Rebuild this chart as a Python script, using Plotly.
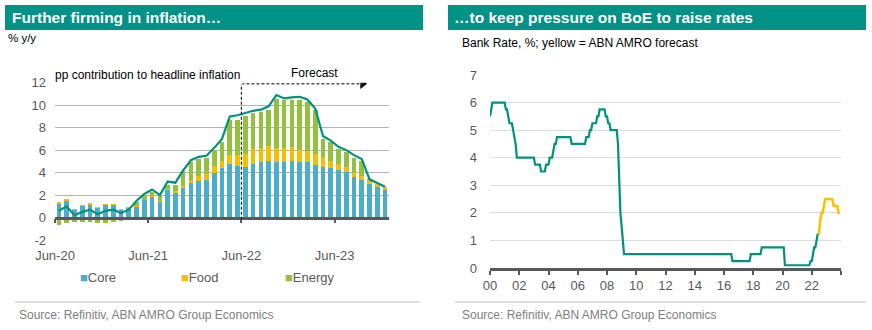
import plotly.graph_objects as go
import pandas as pd

# ---------------- Data: left chart (pp contribution to UK CPI, Jun-20 .. Dec-23) -------------
months = pd.date_range("2020-06-01", "2023-12-01", freq="MS")
core = [1.27, 1.5, 0.7, 1.07, 1.2, 0.9, 1.2, 1.2, 0.7, 0.9,
        1.05, 1.6, 1.9, 1.45, 2.5, 2.25, 2.7, 3.1, 3.3, 3.4,
        4.0, 4.4, 4.8, 4.6, 4.5, 4.8, 5.0, 5.1, 5.0, 5.0,
        5.1, 5.0, 5.0, 4.7, 4.5, 4.45, 4.3, 4.1, 3.65, 3.4,
        3.05, 2.75, 2.45]
food = [0.1, 0.1, 0.08, 0.03, 0.08, 0.02, 0.02, 0.02, 0.02, 0.02,
        0.02, -0.05, 0.02, 0.03, 0.05, 0.1, 0.1, 0.3, 0.4, 0.5,
        0.6, 0.7, 0.8, 1.0, 1.2, 1.3, 1.2, 1.3, 1.2, 1.2,
        1.2, 1.0, 0.95, 1.0, 0.9, 0.65, 0.5, 0.4, 0.35, 0.35,
        0.35, 0.3, 0.25]
energy = [-0.62, -0.5, -0.4, -0.4, -0.4, -0.5, -0.5, -0.35, -0.3, -0.2,
          0.3, 0.35, 0.35, 0.5, 0.4, 0.55, 1.4, 1.6, 1.5, 1.4,
          1.4, 1.65, 3.1, 3.15, 3.4, 3.2, 3.25, 3.2, 4.4, 4.25,
          4.2, 4.5, 4.35, 3.9, 1.65, 1.65, 1.35, 1.4, 1.35, 1.35,
          0.05, 0.0, 0.0]
headline = [0.6, 1.0, 0.2, 0.5, 0.7, 0.3, 0.6, 0.7, 0.4, 0.7,
            1.5, 2.1, 2.5, 2.0, 3.2, 3.1, 4.2, 5.1, 5.4, 5.5,
            6.2, 7.0, 9.0, 9.1, 9.3, 9.5, 9.6, 9.9, 10.9, 10.6,
            10.7, 10.75, 10.5, 9.7, 7.25, 6.85, 6.3, 6.0, 5.55, 5.2,
            3.4, 3.05, 2.75]
left_tick_labels = ["Jun-20", "Jun-21", "Jun-22", "Jun-23"]
left_y_ticks = [-2, 0, 2, 4, 6, 8, 10, 12]
left_y_labels = ["-2", "0", "2", "4", "6", "8", "10", "12"]
forecast_start_label = "Jun-22"
forecast_arrow_end = 39.6
forecast_level = 11.9

# ---------------- Data: right chart (BoE Bank Rate, monthly 2000-2023) -------------
bank_rate = [
    5.5, 5.75, 6.0, 6.0, 6.0, 6.0, 6.0, 6.0, 6.0, 6.0, 6.0, 6.0,          # 2000
    6.0, 5.75, 5.75, 5.5, 5.25, 5.25, 5.25, 5.0, 4.75, 4.5, 4.0, 4.0,     # 2001
    4.0, 4.0, 4.0, 4.0, 4.0, 4.0, 4.0, 4.0, 4.0, 4.0, 4.0, 4.0,           # 2002
    4.0, 3.75, 3.75, 3.75, 3.75, 3.75, 3.5, 3.5, 3.5, 3.5, 3.75, 3.75,    # 2003
    3.75, 4.0, 4.0, 4.0, 4.25, 4.5, 4.5, 4.75, 4.75, 4.75, 4.75, 4.75,   # 2004
    4.75, 4.75, 4.75, 4.75, 4.75, 4.75, 4.75, 4.5, 4.5, 4.5, 4.5, 4.5,   # 2005
    4.5, 4.5, 4.5, 4.5, 4.5, 4.5, 4.5, 4.75, 4.75, 4.75, 5.0, 5.0,       # 2006
    5.25, 5.25, 5.25, 5.25, 5.5, 5.5, 5.75, 5.75, 5.75, 5.75, 5.75, 5.5, # 2007
    5.5, 5.25, 5.25, 5.0, 5.0, 5.0, 5.0, 5.0, 5.0, 4.5, 3.0, 2.0,        # 2008
    1.5, 1.0, 0.5, 0.5, 0.5, 0.5, 0.5, 0.5, 0.5, 0.5, 0.5, 0.5,          # 2009
    0.5, 0.5, 0.5, 0.5, 0.5, 0.5, 0.5, 0.5, 0.5, 0.5, 0.5, 0.5,          # 2010
    0.5, 0.5, 0.5, 0.5, 0.5, 0.5, 0.5, 0.5, 0.5, 0.5, 0.5, 0.5,          # 2011
    0.5, 0.5, 0.5, 0.5, 0.5, 0.5, 0.5, 0.5, 0.5, 0.5, 0.5, 0.5,          # 2012
    0.5, 0.5, 0.5, 0.5, 0.5, 0.5, 0.5, 0.5, 0.5, 0.5, 0.5, 0.5,          # 2013
    0.5, 0.5, 0.5, 0.5, 0.5, 0.5, 0.5, 0.5, 0.5, 0.5, 0.5, 0.5,          # 2014
    0.5, 0.5, 0.5, 0.5, 0.5, 0.5, 0.5, 0.5, 0.5, 0.5, 0.5, 0.5,          # 2015
    0.5, 0.5, 0.5, 0.5, 0.5, 0.5, 0.5, 0.25, 0.25, 0.25, 0.25, 0.25,     # 2016
    0.25, 0.25, 0.25, 0.25, 0.25, 0.25, 0.25, 0.25, 0.25, 0.25, 0.5, 0.5,# 2017
    0.5, 0.5, 0.5, 0.5, 0.5, 0.5, 0.5, 0.75, 0.75, 0.75, 0.75, 0.75,     # 2018
    0.75, 0.75, 0.75, 0.75, 0.75, 0.75, 0.75, 0.75, 0.75, 0.75, 0.75, 0.75, # 2019
    0.75, 0.75, 0.1, 0.1, 0.1, 0.1, 0.1, 0.1, 0.1, 0.1, 0.1, 0.1,        # 2020
    0.1, 0.1, 0.1, 0.1, 0.1, 0.1, 0.1, 0.1, 0.1, 0.1, 0.1, 0.25,         # 2021
    0.25, 0.5, 0.75, 0.75, 1.0, 1.25, 1.25, 1.75, 2.0, 2.0, 2.25, 2.5,   # 2022
    2.5, 2.5, 2.5, 2.5, 2.5, 2.5, 2.25, 2.25, 2.25, 2.25, 2.0, 2.0,      # 2023
]
bank_dates = pd.date_range("2000-01-01", periods=len(bank_rate), freq="MS")
forecast_from = pd.Timestamp("2022-06-01")
right_tick_years = list(range(2000, 2025, 2))
right_tick_labels = ["00", "02", "04", "06", "08", "10", "12", "14", "16", "18", "20", "22", ""]

# ---------------- Styling -------------
W, H = 872, 330
FONT = "Liberation Sans, Arial, sans-serif"
TEAL = "#00927F"
HEADER = "#009286"
C_CORE = "#4BADC8"
C_FOOD = "#F7BE00"
C_ENERGY = "#93C13E"
C_FC = "#FFC000"
AX = "#595959"
GRAY_TXT = "#808080"


def fx(p):
    return p / W


def fy(p):
    return 1 - p / H


fig = go.Figure()

xpos = [i + 0.5 for i in range(len(months))]
for vals, col, nm in [(core, C_CORE, "Core"), (food, C_FOOD, "Food"), (energy, C_ENERGY, "Energy")]:
    fig.add_trace(go.Bar(x=xpos, y=vals, name=nm, marker=dict(color=col, line=dict(width=0)),
                         width=0.6, xaxis="x", yaxis="y", showlegend=False))
fig.add_trace(go.Scatter(x=xpos, y=headline, mode="lines", line=dict(color=TEAL, width=2.2),
                         xaxis="x", yaxis="y", showlegend=False, name="Headline"))

# forecast arrow head
fig.add_trace(go.Scatter(x=[forecast_arrow_end], y=[forecast_level], mode="markers",
                         marker=dict(symbol="triangle-right", size=9, color="#000000"),
                         xaxis="x", yaxis="y", showlegend=False, hoverinfo="skip"))

# dummy trace to activate zero-line axis
fig.add_trace(go.Scatter(x=[0], y=[0], mode="markers", marker=dict(opacity=0),
                         xaxis="x3", yaxis="y", showlegend=False, hoverinfo="skip"))

hist_mask = bank_dates <= forecast_from
fc_mask = bank_dates >= forecast_from
fig.add_trace(go.Scatter(x=bank_dates[hist_mask], y=[v for v, m in zip(bank_rate, hist_mask) if m],
                         mode="lines", line=dict(color=TEAL, width=2.2), xaxis="x2", yaxis="y2",
                         showlegend=False, name="Bank Rate"))
fig.add_trace(go.Scatter(x=bank_dates[fc_mask], y=[v for v, m in zip(bank_rate, fc_mask) if m],
                         mode="lines", line=dict(color=C_FC, width=2.5), xaxis="x2", yaxis="y2",
                         showlegend=False, name="Forecast"))

# axes geometry
ly0, ly1 = fy(240), fy(82.7)
yrng = [-2, 12]
zero_pos = ly0 + (0 - yrng[0]) / (yrng[1] - yrng[0]) * (ly1 - ly0)
left_tickvals = [months.get_loc(pd.Timestamp(pd.to_datetime(t, format="%b-%y"))) for t in left_tick_labels]
fc_idx = months.get_loc(pd.Timestamp(pd.to_datetime(forecast_start_label, format="%b-%y")))

tickfont = dict(family=FONT, size=13, color=AX)

fig.update_layout(
    width=W, height=H, margin=dict(l=0, r=0, t=0, b=0, autoexpand=False),
    paper_bgcolor="white", plot_bgcolor="white",
    barmode="relative", bargap=0,
    font=dict(family=FONT),
    xaxis=dict(domain=[fx(55), fx(389)], range=[0, len(months)], tickvals=left_tickvals,
               ticktext=left_tick_labels, showgrid=False, zeroline=False, showline=False,
               ticks="", tickfont=tickfont, anchor="y", ticklabelstandoff=6, automargin=False),
    xaxis3=dict(overlaying="x", anchor="free", position=zero_pos, range=[0, len(months)],
                tickvals=left_tickvals, showticklabels=False, ticks="outside", ticklen=4,
                tickwidth=1.5, tickcolor=AX, showline=True, linecolor=AX, linewidth=2.5,
                showgrid=False, zeroline=False, automargin=False),
    yaxis=dict(domain=[ly0, ly1], range=yrng, tickvals=left_y_ticks, ticktext=left_y_labels,
               gridcolor="#B4B4B4", gridwidth=1,
               zeroline=False, showline=False, ticks="", tickfont=tickfont, anchor="x",
               ticklabelstandoff=8, automargin=False),
    xaxis2=dict(domain=[fx(490), fx(841)], type="date", range=["2000-01-01", "2024-01-01"],
                tickvals=[pd.Timestamp(f"{y}-01-01") for y in right_tick_years],
                ticktext=right_tick_labels, ticks="outside", ticklen=4, tickwidth=1.5,
                tickcolor=AX, showline=True, linecolor=AX, linewidth=2.5, showgrid=False,
                zeroline=False, tickfont=tickfont, anchor="y2", automargin=False),
    yaxis2=dict(domain=[fy(268), fy(75)], range=[0, 7], dtick=1, gridcolor="#DCDCDC",
                gridwidth=1.2, zeroline=False, showline=False, ticks="", tickfont=tickfont,
                anchor="x2", ticklabelstandoff=12, automargin=False),
)

shapes = [
    dict(type="rect", xref="paper", yref="paper", x0=fx(5), x1=fx(423), y0=fy(30), y1=fy(5),
         fillcolor=HEADER, line=dict(width=0), layer="below"),
    dict(type="rect", xref="paper", yref="paper", x0=fx(448), x1=fx(866), y0=fy(30), y1=fy(5),
         fillcolor=HEADER, line=dict(width=0), layer="below"),
    dict(type="line", xref="paper", yref="paper", x0=fx(15), x1=fx(420), y0=fy(302), y1=fy(302),
         line=dict(color="#BFBFBF", width=1)),
    dict(type="line", xref="paper", yref="paper", x0=fx(455), x1=fx(866), y0=fy(302), y1=fy(302),
         line=dict(color="#BFBFBF", width=1)),
    dict(type="line", xref="x", yref="y", x0=fc_idx, x1=fc_idx, y0=-0.2, y1=forecast_level,
         line=dict(color="#222222", width=1.2, dash="3px,2px")),
    dict(type="line", xref="x", yref="y", x0=fc_idx, x1=forecast_arrow_end, y0=forecast_level,
         y1=forecast_level, line=dict(color="#555555", width=1.5, dash="3px,2px")),
]

ann = [
    dict(text="<b>Further firming in inflation…</b>", x=fx(10), y=fy(17.5), xanchor="left",
         yanchor="middle", font=dict(family=FONT, size=15.5, color="white")),
    dict(text="<b>…to keep pressure on BoE to raise rates</b>", x=fx(452), y=fy(17.5),
         xanchor="left", yanchor="middle", font=dict(family=FONT, size=15.5, color="white")),
    dict(text="% y/y", x=fx(6), y=fy(38), xanchor="left", yanchor="middle",
         font=dict(family=FONT, size=11.5, color="#000000")),
    dict(text="Bank Rate, %; yellow = ABN AMRO forecast", x=fx(460), y=fy(43), xanchor="left",
         yanchor="middle", font=dict(family=FONT, size=12, color="#000000")),
    dict(text="pp contribution to headline inflation", x=fx(52), y=fy(75.5), xanchor="left",
         yanchor="middle", bgcolor="white", borderpad=2,
         font=dict(family=FONT, size=12, color="#000000")),
    dict(text="Forecast", x=fx(314), y=fy(73), xanchor="center", yanchor="middle",
         font=dict(family=FONT, size=12, color="#000000")),
    dict(text="Source: Refinitiv, ABN AMRO Group Economics", x=fx(17), y=fy(315),
         xanchor="left", yanchor="middle", font=dict(family=FONT, size=12, color=GRAY_TXT)),
    dict(text="Source: Refinitiv, ABN AMRO Group Economics", x=fx(460), y=fy(315),
         xanchor="left", yanchor="middle", font=dict(family=FONT, size=12, color=GRAY_TXT)),
]
for nm, col, xl in [("Core", C_CORE, 78), ("Food", C_FOOD, 179), ("Energy", C_ENERGY, 283)]:
    ann.append(dict(text=f"<span style='color:{col};font-size:13px'>■</span>{nm}", x=fx(xl),
                    y=fy(277), xanchor="left", yanchor="middle",
                    font=dict(family=FONT, size=13, color=AX)))
for a in ann:
    a.update(xref="paper", yref="paper", showarrow=False)

fig.update_layout(shapes=shapes, annotations=ann)
fig.write_html("out.html")
